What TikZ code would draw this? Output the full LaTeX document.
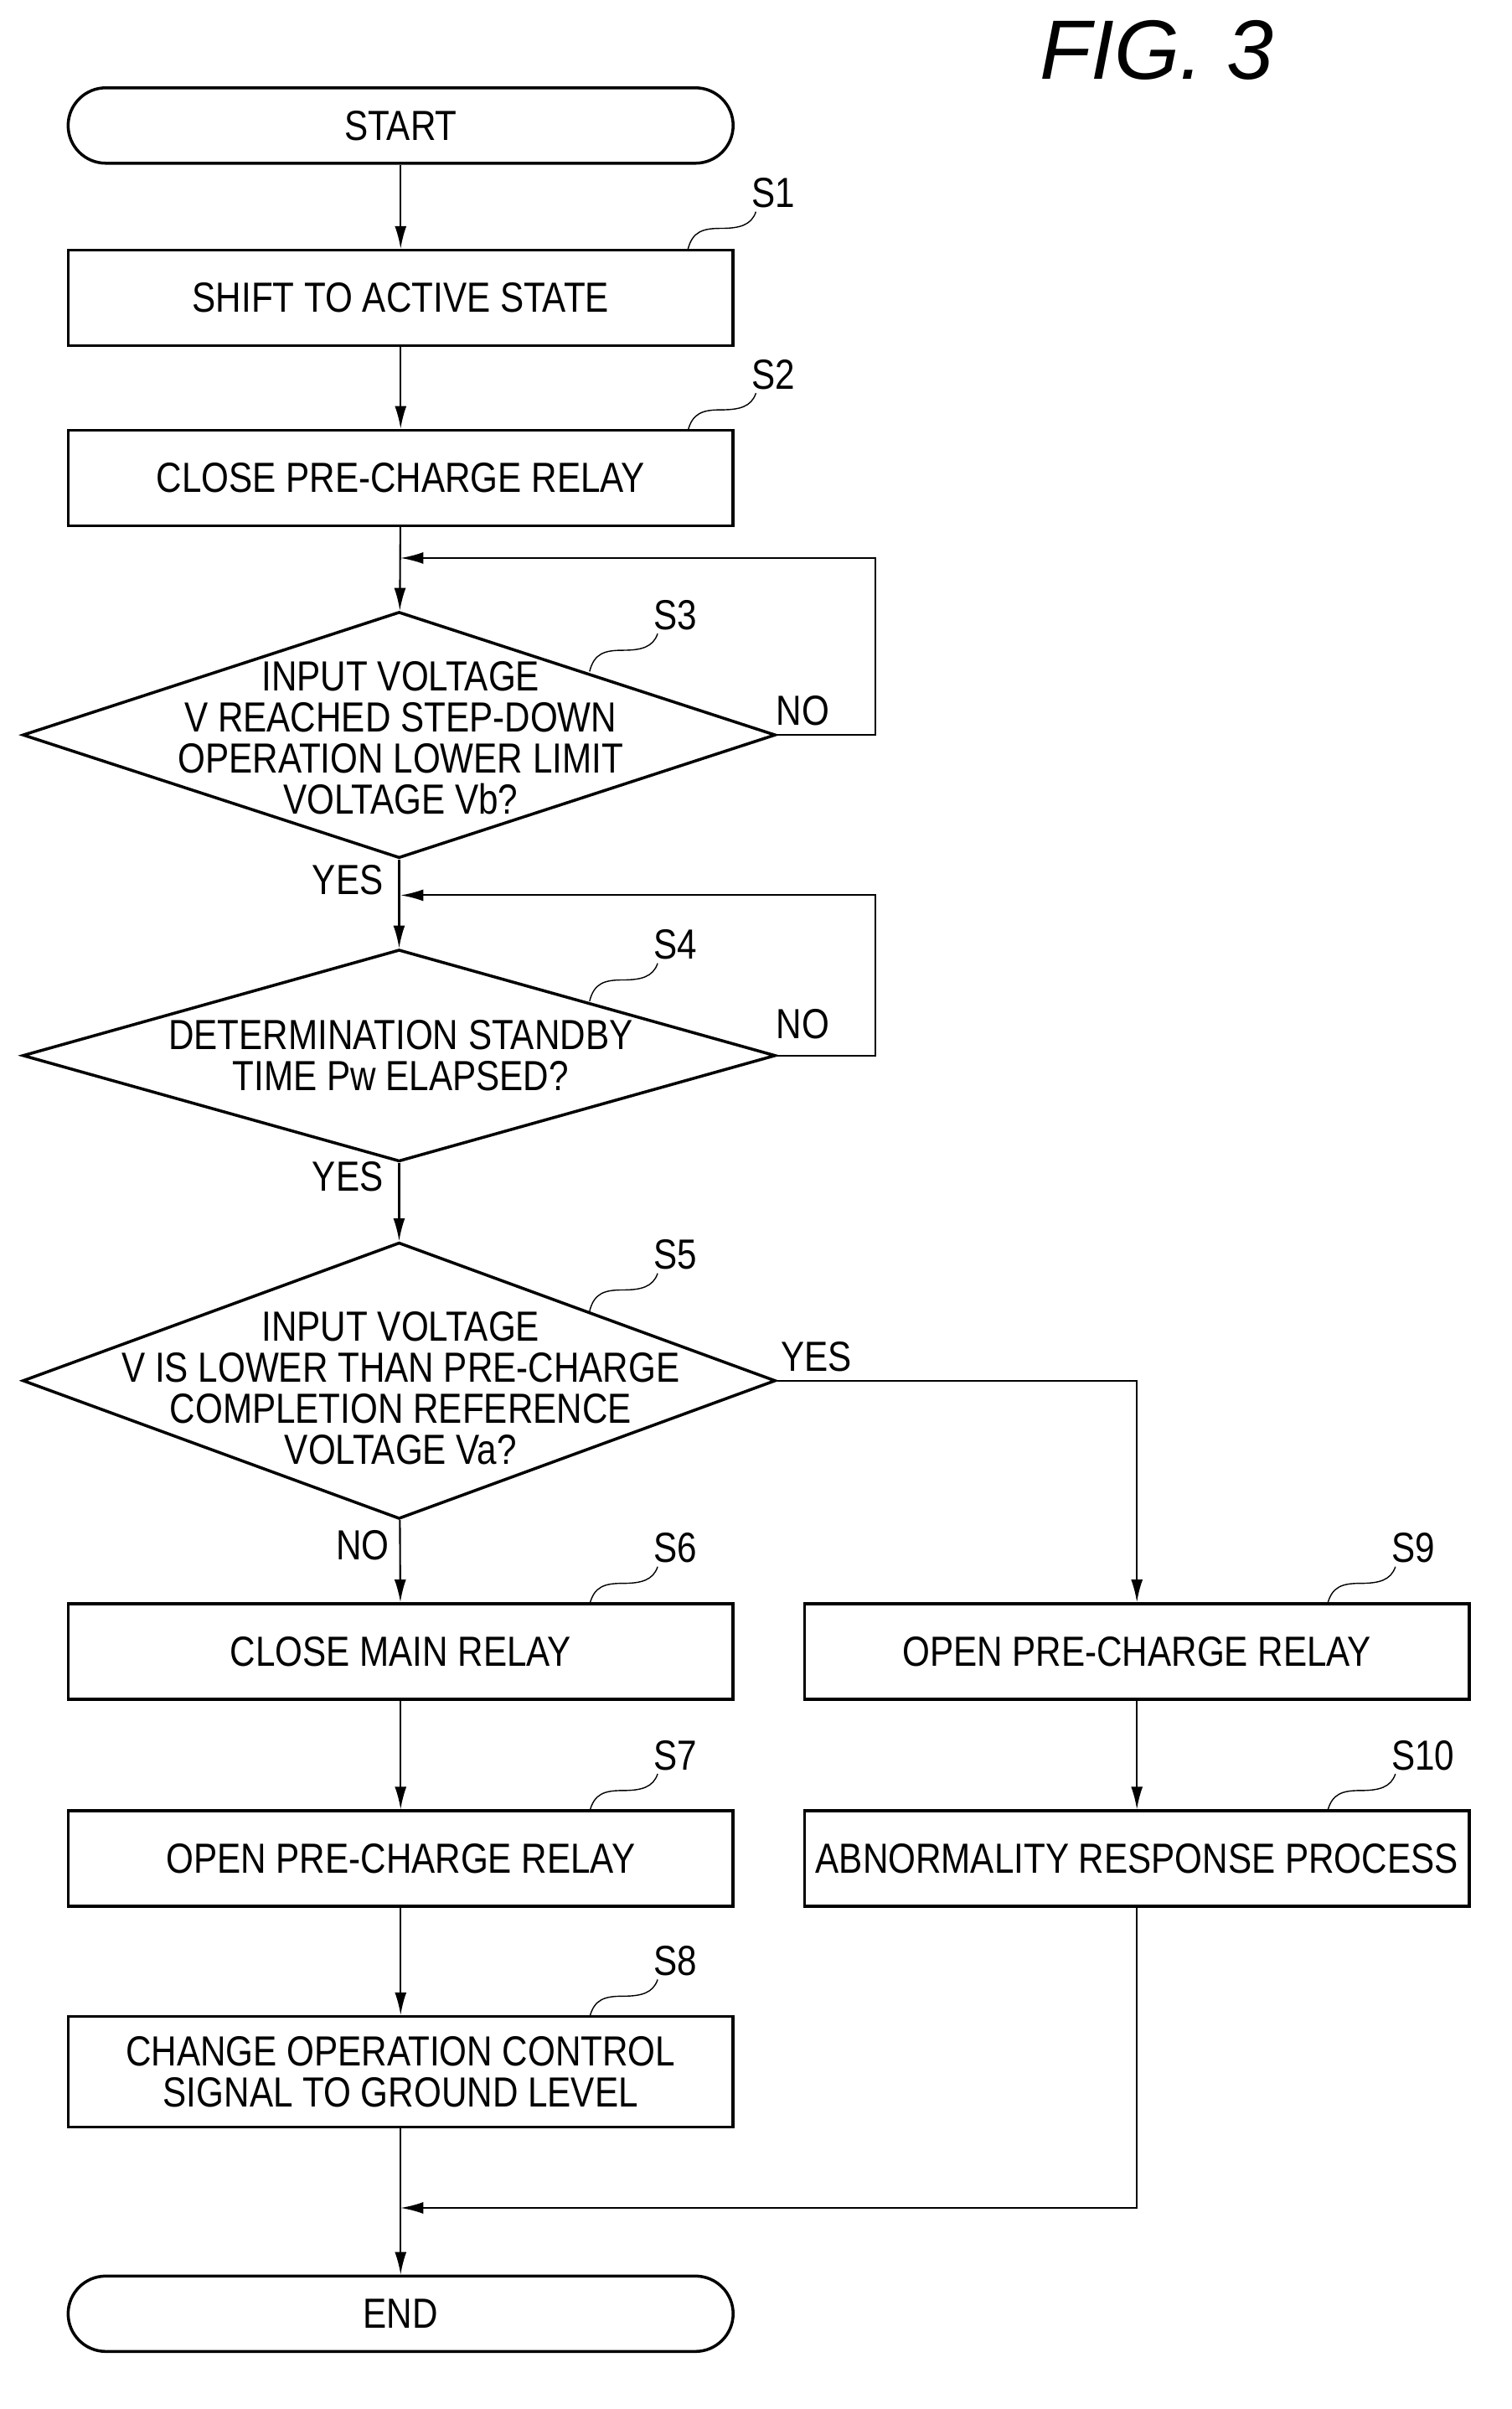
\documentclass[tikz,border=0pt]{standalone}
\usepackage{fontspec}
\setmainfont{Liberation Sans}[FakeStretch=0.84]
\newfontfamily\figfont{Liberation Sans}
\usetikzlibrary{shapes.geometric,arrows.meta}

% step label with a wavy leader
\newcommand{\steplbl}[3]{%
  \draw[thin] (#1,#2) .. controls (#1+3,#2-12) and (#1+10,#2-14) .. (#1+22,#2-14)
    .. controls (#1+34,#2-14) and (#1+42,#2-16) .. (#1+45,#2-25);
  \node[anchor=south west,inner sep=0pt] at (#1+42,#2-27) {#3};}

\begin{document}
\begin{tikzpicture}[x=0.01805cm, y=-0.01805cm,
    font=\fontsize{14.3}{13.9}\selectfont,
    block/.style={
        draw, line width=1pt,
        minimum width=7.94cm,
        minimum height=1.14cm,
        align=center
    },
    term/.style={
        block,
        rounded corners=0.45cm,
        minimum height=0.9cm
    },
    decision/.style={
        draw, line width=1pt,
        shape=diamond,
        inner sep=0pt,
        minimum width=8.99cm
    },
    line/.style={
        -{Latex[length=0.27cm,width=0.14cm]}, line width=0.6pt
    }
]
\useasboundingbox (0,0) rectangle (1000,1593);

% --- Title ---
\node[font=\figfont\itshape\fontsize{28.6}{30}\selectfont] (fig) at (765,33) {FIG. 3};

% --- Left column ---
\node[term] (start) at (265,83) {START};
\node[block] (s1) at (265,197) {SHIFT TO ACTIVE STATE};
\node[block] (s2) at (265,316) {CLOSE PRE-CHARGE RELAY};

\node[decision, minimum height=2.94cm] (s3) at (264,486) {};
\node[align=center] at (265,488) {INPUT VOLTAGE\\V REACHED STEP-DOWN\\OPERATION LOWER LIMIT\\VOLTAGE Vb?};

\node[decision, minimum height=2.53cm] (s4) at (264,698) {};
\node[align=center] at (265,698) {DETERMINATION STANDBY\\TIME Pw ELAPSED?};

\node[decision, minimum height=3.30cm] (s5) at (264,913) {};
\node[align=center] at (265,918) {INPUT VOLTAGE\\V IS LOWER THAN PRE-CHARGE\\COMPLETION REFERENCE\\VOLTAGE Va?};

\node[block] (s6) at (265,1092) {CLOSE MAIN RELAY};
\node[block] (s7) at (265,1229) {OPEN PRE-CHARGE RELAY};
\node[block, minimum height=1.32cm, align=center] (s8) at (265,1370) {CHANGE OPERATION CONTROL\\SIGNAL TO GROUND LEVEL};
\node[term] (end) at (265,1530) {END};

% --- Right column ---
\node[block] (s9) at (752,1092) {OPEN PRE-CHARGE RELAY};
\node[block] (s10) at (752,1229) {ABNORMALITY RESPONSE PROCESS};

% --- Join points ---
\coordinate (j3) at (265,369);
\coordinate (j4) at (265,592);
\coordinate (j8) at (265,1460);

% --- Flow ---
\draw[line] (start) -- (s1);
\draw[line] (s1) -- (s2);
\draw[line] (s2) -- (s3);
\draw[line] (s3) -- (s4);
\draw[line] (s4) -- (s5);
\draw[line] (s5) -- (s6);
\draw[line] (s6) -- (s7);
\draw[line] (s7) -- (s8);
\draw[line] (s8) -- (end);
\draw[line] (s3.east) -- ++(65,0) |- (j3);
\draw[line] (s4.east) -- ++(65,0) |- (j4);
\draw[line] (s5.east) -| (s9);
\draw[line] (s9) -- (s10);
\draw[line] (s10) |- (j8);

% --- Branch labels ---
\node (no3) at (531,470) {NO};
\node (yes3) at (230,582) {YES};
\node (no4) at (531,677) {NO};
\node (yes4) at (230,778) {YES};
\node (yes5) at (540,897) {YES};
\node (no5) at (240,1022) {NO};

% --- Step labels ---
\steplbl{455}{165}{S1}
\steplbl{455}{285}{S2}
\steplbl{390}{444}{S3}
\steplbl{390}{662}{S4}
\steplbl{390}{867}{S5}
\steplbl{390}{1061}{S6}
\steplbl{390}{1198}{S7}
\steplbl{390}{1334}{S8}
\steplbl{878}{1061}{S9}
\steplbl{878}{1198}{S10}

\end{tikzpicture}
\end{document}
